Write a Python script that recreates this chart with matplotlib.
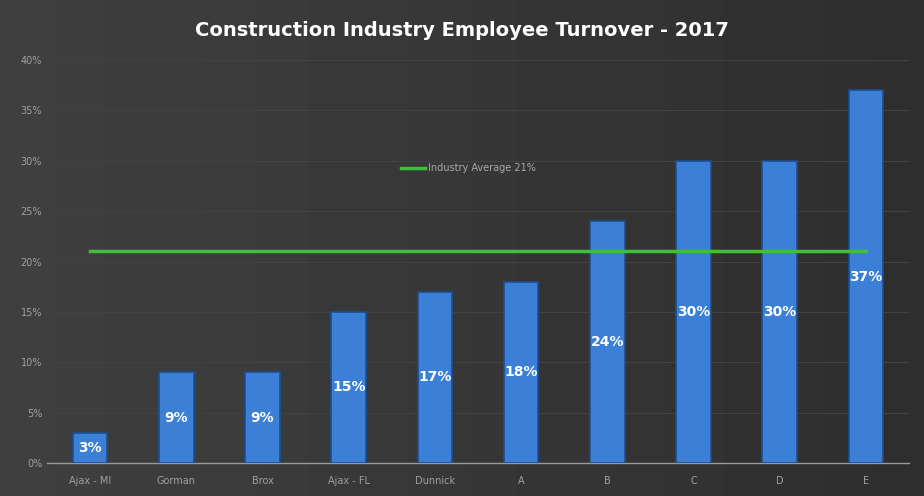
import numpy as np
import matplotlib.pyplot as plt

companies = ["Ajax - MI", "Gorman", "Brox", "Ajax - FL", "Dunnick", "A", "B", "C", "D", "E"]
turnover = [3, 9, 9, 15, 17, 18, 24, 30, 30, 37]
industry_avg = 21

fig = plt.figure(figsize=(9.24, 4.96), dpi=100)
fig.patch.set_facecolor("#2f2f2f")

# dark gradient background
bg = fig.add_axes([0, 0, 1, 1], zorder=-10)
grad = np.linspace(0.25, 0.18, 256).reshape(1, -1)
grad = np.vstack([grad] * 2)
bg.imshow(grad, cmap="gray", vmin=0, vmax=1, aspect="auto", extent=[0, 1, 0, 1])
bg.axis("off")

ax = fig.add_axes([47 / 924, 33 / 496, 862 / 924, 403 / 496])
ax.set_facecolor("none")

x = np.arange(len(companies))
bars = ax.bar(x, turnover, width=0.4, color="#3b7fd6", edgecolor="#1c4f8f", linewidth=1.2, zorder=3)
for xi, v in zip(x, turnover):
    ax.text(xi, v / 2, f"{v}%", ha="center", va="center", color="white",
            fontsize=10, fontweight="bold", zorder=5)

ax.plot([x[0], x[-1]], [industry_avg, industry_avg], color="#3fbf3f", linewidth=2.5,
        zorder=4, label="Industry Average 21%")

ax.set_xlim(-0.5, len(companies) - 0.5)
ax.set_ylim(0, 40)
ax.set_yticks(range(0, 41, 5))
ax.set_yticklabels([f"{t}%" for t in range(0, 41, 5)])
ax.set_xticks(x)
ax.set_xticklabels(companies)
ax.tick_params(colors="#a0a0a0", labelsize=7, length=0)
ax.tick_params(axis="x", pad=9)
ax.grid(axis="y", color="#424242", linewidth=0.8, zorder=0)
for s in ["top", "right", "left"]:
    ax.spines[s].set_visible(False)
ax.spines["bottom"].set_color("#9a9a9a")
ax.spines["bottom"].set_linewidth(1)

leg = ax.legend(loc="upper left", bbox_to_anchor=(0.40, 0.765), frameon=False,
                fontsize=7, handlelength=2.5, handletextpad=0.3)
for t in leg.get_texts():
    t.set_color("#a8a8a8")

fig.text(0.5, 0.938, "Construction Industry Employee Turnover - 2017", ha="center", va="center",
         color="white", fontsize=14, fontweight="bold")

fig.savefig("out.png", dpi=100, facecolor=fig.get_facecolor())
